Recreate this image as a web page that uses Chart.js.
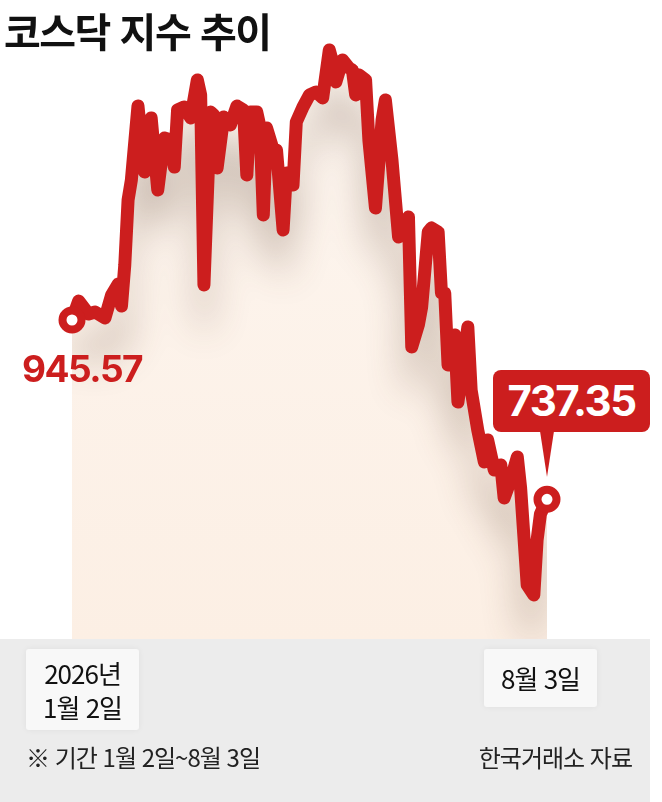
<!DOCTYPE html>
<html lang="ko">
<head>
<meta charset="utf-8">
<script src="https://cdn.jsdelivr.net/npm/chart.js@4.4.1/dist/chart.umd.min.js"></script>
<style>
  html, body { margin: 0; padding: 0; background: #fff; }
  #wrap { position: relative; width: 662px; height: 802px; overflow: hidden; font-family: "Noto Sans CJK KR", "Noto Sans", sans-serif; }
  #band { position: absolute; left: 0; top: 639px; width: 650px; height: 163px; background: #ececec; }
  #chart { position: absolute; left: 0; top: 0; }
  .abs { position: absolute; }
  #title { left: 4px; top: 5px; font-size: 40px; font-weight: 700; letter-spacing: -1.5px; color: #111; line-height: 50px; }
  .val { font-family: Inter, "Noto Sans", sans-serif; font-weight: 700; letter-spacing: -1.5px; }
  #v0 { left: 22px; top: 350px; font-size: 37px; line-height: 38px; color: #cc1e1e; }
  #v1 { left: 493px; top: 370px; width: 157px; height: 62px; border-radius: 8px; background: #cc1e1e; color: #fff; font-size: 42px; line-height: 62px; text-align: center; }
  #tip { left: 540px; top: 431px; width: 14px; height: 46px; background: #cc1e1e; clip-path: polygon(0 0, 100% 0, 50% 100%); }
  .dash { width: 0; border-left: 1.5px dashed #aaa; }
  .date { background: #f8f8f8; border-radius: 3px; box-shadow: 0 0 6px rgba(0,0,0,0.06); font-size: 26px; color: #111; text-align: center; letter-spacing: -1px; }
  #d0 { left: 26px; top: 649px; width: 113px; height: 81px; line-height: 34px; padding-top: 7px; box-sizing: border-box; }
  #d1 { left: 484px; top: 649px; width: 113px; height: 58px; line-height: 58px; }
  .foot { top: 740px; font-size: 24px; color: #222; letter-spacing: -1px; line-height: 34px; }
  #f0 { left: 26px; }
  #f1 { right: 30px; }
</style>
</head>
<body>
<div id="wrap">
  <div id="band"></div>
  <div class="abs dash" style="left:72px; top:390px; height:249px;"></div>
  <div class="abs dash" style="left:541px; top:600px; height:39px;"></div>
  <canvas id="chart" width="662" height="802"></canvas>
  <div id="title" class="abs">코스닥 지수 추이</div>
  <div id="v0" class="abs val">945.57</div>
  <div id="tip" class="abs"></div>
  <div id="v1" class="abs val">737.35</div>
  <div id="d0" class="abs date">2026년<br>1월 2일</div>
  <div id="d1" class="abs date">8월 3일</div>
  <div id="f0" class="abs foot">※ 기간 1월 2일~8월 3일</div>
  <div id="f1" class="abs foot">한국거래소 자료</div>
</div>
<script>
// trading day (0 = 1월 2일, 144 = 8월 3일) and index value
const days = [0, 2, 5, 7, 10, 12, 14, 15, 16, 17, 18, 20, 22, 24, 26, 28, 30, 31, 32, 34,
  36, 38, 39, 40, 42, 43, 44, 46, 48, 50, 52, 53, 54, 56, 57, 58, 59, 61, 62, 64,
  65, 67, 68, 70, 72, 74, 76, 78, 79, 80, 82, 84, 85, 86, 87, 89, 90, 92, 94, 95,
  97, 99, 101, 102, 103, 105, 106, 108, 109, 111, 112, 113, 114, 116, 117, 120, 121, 123, 125, 126,
  128, 130, 131, 133, 135, 136, 138, 140, 141, 142, 144];
const kosdaq = [945.57, 967.6, 952.5, 954.9, 947.9, 974.6, 987.4, 961.8, 1009.4, 1084.9, 1108.2, 1194.1, 1117.4, 1180.2, 1096.5, 1156.9, 1154.6, 1123.2, 1189.4, 1192.9,
  1180.2, 1224.3, 1206.9, 986.2, 1187.1, 1183.6, 1122.1, 1181.3, 1172.0, 1194.1, 1189.4, 1113.9, 1187.1, 1187.1, 1169.7, 1067.5, 1168.5, 1143.0, 1143.0, 1050.1,
  1116.3, 1102.3, 1175.5, 1192.9, 1206.9, 1210.3, 1203.4, 1259.1, 1245.2, 1222.0, 1247.5, 1238.2, 1235.9, 1206.9, 1230.1, 1224.3, 1154.6, 1075.6, 1177.8, 1201.1,
  1131.4, 1042.0, 1059.4, 1065.2, 914.2, 939.8, 960.7, 1047.8, 1052.4, 1047.8, 976.9, 976.9, 893.3, 928.2, 850.3, 937.4, 864.3, 817.8, 780.7, 806.2,
  771.4, 777.2, 738.9, 759.7, 786.5, 750.5, 637.8, 626.2, 690.1, 720.0, 737.35];

const RED = '#cc1e1e';
const last = kosdaq.length - 1;

// grey shadow under the line, kept inside the filled area
const lineShadow = {
  id: 'lineShadow',
  beforeDatasetDraw(chart) {
    const pts = chart.getDatasetMeta(0).data;
    const ctx = chart.ctx;
    const bottom = chart.chartArea.bottom;
    ctx.save();
    ctx.beginPath();
    pts.forEach((p, i) => i ? ctx.lineTo(p.x, p.y) : ctx.moveTo(p.x, p.y));
    ctx.lineTo(pts[last].x, bottom);
    ctx.lineTo(pts[0].x, bottom);
    ctx.closePath();
    ctx.clip();
    ctx.translate(-10000, 0);
    ctx.shadowColor = 'rgba(95,65,45,0.3)';
    ctx.shadowBlur = 36;
    ctx.shadowOffsetX = 10000;
    ctx.shadowOffsetY = 38;
    ctx.lineWidth = 13;
    ctx.lineJoin = 'round';
    ctx.strokeStyle = '#000';
    ctx.beginPath();
    pts.forEach((p, i) => i ? ctx.lineTo(p.x, p.y) : ctx.moveTo(p.x, p.y));
    ctx.stroke();
    ctx.restore();
  }
};

new Chart(document.getElementById('chart'), {
  type: 'line',
  data: {
    datasets: [{
      data: days.map((d, i) => ({ x: d, y: kosdaq[i] })),
      borderColor: RED,
      borderWidth: 13,
      borderJoinStyle: 'round',
      borderCapStyle: 'round',
      tension: 0,
      fill: 'start',
      backgroundColor: (c) => {
        const a = c.chart.chartArea;
        if (!a) return '#fcefe5';
        const g = c.chart.ctx.createLinearGradient(0, a.top, 0, a.bottom);
        g.addColorStop(0, '#fdf6f0');
        g.addColorStop(1, '#fcefe4');
        return g;
      },
      pointRadius: (c) => (c.dataIndex === 0 || c.dataIndex === last) ? 9.5 : 0,
      pointBorderWidth: 8,
      pointBackgroundColor: '#fff',
      pointBorderColor: RED,
      pointHoverRadius: 0,
      clip: false
    }]
  },
  options: {
    responsive: false,
    devicePixelRatio: 1,
    animation: false,
    events: [],
    layout: { padding: { left: 72, right: 115, top: 40, bottom: 163 } },
    scales: {
      x: { type: 'linear', min: 0, max: 144, display: false },
      y: { min: 575.11, max: 1270.73, display: false }
    },
    plugins: { legend: { display: false }, tooltip: { enabled: false } }
  },
  plugins: [lineShadow]
});
</script>
</body>
</html>
